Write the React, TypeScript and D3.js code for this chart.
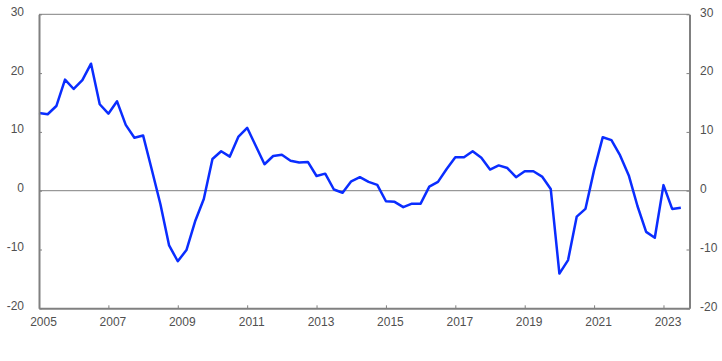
import React, { useEffect, useRef } from 'react';
import * as d3 from 'd3';

// quarterly series, 2005Q1 .. 2023Q3
const startYear = 2005;
const values = [
  13.2, 13.0, 14.4, 18.9, 17.3, 18.8, 21.6, 14.7,
  13.1, 15.2, 11.2, 9.0, 9.4, 3.6, -2.3, -9.3,
  -12.0, -10.1, -5.2, -1.4, 5.4, 6.7, 5.8, 9.2,
  10.7, 7.6, 4.5, 5.9, 6.1, 5.1, 4.8, 4.9,
  2.5, 2.9, 0.2, -0.35, 1.6, 2.3, 1.5, 1.0,
  -1.8, -1.9, -2.8, -2.2, -2.2, 0.7, 1.5, 3.7,
  5.7, 5.7, 6.7, 5.6, 3.6, 4.3, 3.85, 2.3,
  3.3, 3.3, 2.4, 0.3, -14.1, -11.8, -4.4, -3.1,
  3.5, 9.1, 8.6, 6.0, 2.6, -2.6, -7.0, -8.0,
  0.95, -3.1, -2.9,
];
const yearTicks = [2005, 2007, 2009, 2011, 2013, 2015, 2017, 2019, 2021, 2023];
const valueTicks = [30, 20, 10, 0, -10, -20];

const Chart = () => {
  const ref = useRef<SVGSVGElement>(null);

  useEffect(() => {
    const svg = d3.select(ref.current);
    svg.selectAll('*').remove();
    const left = 39, right = 689.5, top = 14.3, bottom = 308.3;
    const textColor = '#505050';
    const axisColor = '#808080';

    const x = d3.scaleLinear().domain([startYear, startYear + values.length / 4]).range([left, right]);
    const y = d3.scaleLinear().domain([-20, 30]).range([bottom, top]);

    // frame top + zero line
    svg.append('line')
      .attr('x1', left).attr('x2', right).attr('y1', top).attr('y2', top)
      .attr('stroke', axisColor).attr('stroke-width', 1);
    svg.append('line')
      .attr('x1', left).attr('x2', right).attr('y1', y(0)).attr('y2', y(0))
      .attr('stroke', axisColor).attr('stroke-width', 1);

    // line
    const line = d3.line<number>()
      .x((_, i) => x(startYear + i / 4))
      .y(d => y(d));
    svg.append('path')
      .datum(values)
      .attr('d', line)
      .attr('fill', 'none')
      .attr('stroke', '#0a2dff')
      .attr('stroke-width', 2.5)
      .attr('stroke-linejoin', 'round');

    // left / right / bottom axes
    const axisStyle = (g: any) => {
      g.select('.domain').attr('stroke', axisColor).attr('stroke-width', 2);
      g.selectAll('.tick line').attr('stroke', axisColor).attr('stroke-width', 1);
      g.selectAll('text').remove();
    };

    svg.append('g')
      .attr('transform', `translate(${left},0)`)
      .call(d3.axisRight(y).tickValues(valueTicks).tickSize(3).tickSizeOuter(0))
      .call(axisStyle);
    svg.append('g')
      .attr('transform', `translate(${right},0)`)
      .call(d3.axisLeft(y).tickValues(valueTicks).tickSize(3).tickSizeOuter(0))
      .call(axisStyle);
    svg.append('g')
      .attr('transform', `translate(0,${bottom})`)
      .call(d3.axisTop(x).tickValues(yearTicks).tickSize(3).tickSizeOuter(0))
      .call(axisStyle);

    const font = 'Liberation Sans, Arial, sans-serif';

    svg.append('g').selectAll('text')
      .data(valueTicks)
      .join('text')
      .attr('x', 24)
      .attr('y', d => y(d) + 1.5)
      .attr('text-anchor', 'end')
      .attr('fill', textColor)
      .attr('font-family', font)
      .attr('font-size', 12)
      .text(d => d);

    svg.append('g').selectAll('text')
      .data(valueTicks)
      .join('text')
      .attr('x', 700)
      .attr('y', d => y(d) + 2.3)
      .attr('text-anchor', 'start')
      .attr('fill', textColor)
      .attr('font-family', font)
      .attr('font-size', 12)
      .text(d => d);

    svg.append('g').selectAll('text')
      .data(yearTicks)
      .join('text')
      .attr('x', d => x(d) + 4.5)
      .attr('y', 325.6)
      .attr('text-anchor', 'middle')
      .attr('fill', textColor)
      .attr('font-family', font)
      .attr('font-size', 12)
      .text(d => d);
  }, []);

  return (
    <svg
      ref={ref}
      width={722}
      height={361}
      style={{ position: 'absolute', left: 0, top: 0, background: '#fff' }}
    />
  );
};

export default function App() {
  return <Chart />;
}
